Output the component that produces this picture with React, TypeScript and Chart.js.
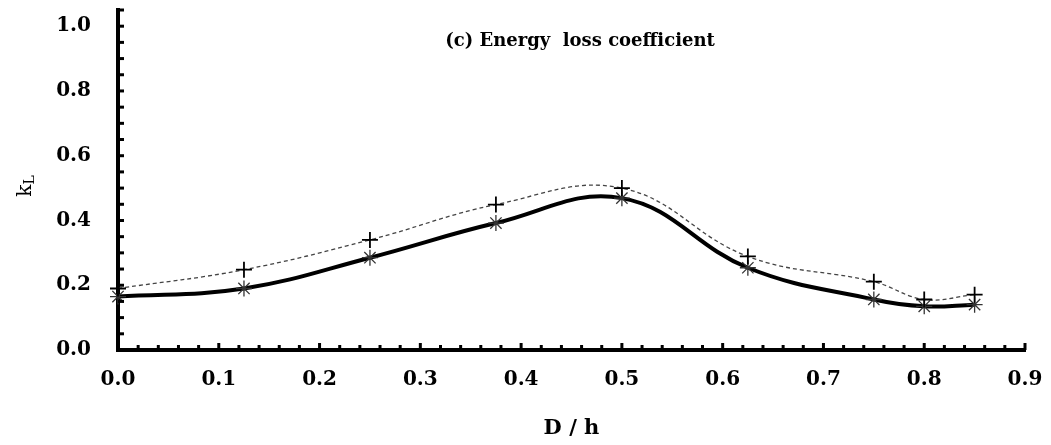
import React, { useEffect, useRef } from "react";
import { Chart, registerables } from "chart.js";

Chart.register(...registerables);

const xValues = [0, 0.125, 0.25, 0.375, 0.5, 0.625, 0.75, 0.8, 0.85];
const kLSolid = [0.165, 0.19, 0.285, 0.392, 0.469, 0.254, 0.156, 0.135, 0.14];
const kLDashed = [0.19, 0.248, 0.34, 0.449, 0.5, 0.289, 0.211, 0.156, 0.171];
const titleText = "(c) Energy  loss coefficient";
const xAxisTitle = "D / h";
const yAxisMain = "k";
const yAxisSub = "L";

const FONT = "'DejaVu Serif', 'Liberation Serif', serif";

const isMultiple = (v: number, step: number) =>
  Math.abs(v / step - Math.round(v / step)) < 1e-6;

const decorPlugin = {
  id: "decor",
  afterDraw(chart: any) {
    const { ctx, chartArea, scales } = chart;
    const xs = scales.x;
    const ys = scales.y;
    ctx.save();
    ctx.strokeStyle = "#000";
    ctx.lineWidth = 3;
    xs.ticks.forEach((t: any) => {
      const px = xs.getPixelForValue(t.value);
      const len = isMultiple(t.value, 0.1) ? 7 : 5;
      ctx.beginPath();
      ctx.moveTo(px, chartArea.bottom);
      ctx.lineTo(px, chartArea.bottom - len);
      ctx.stroke();
    });
    ys.ticks.forEach((t: any) => {
      const py = ys.getPixelForValue(t.value);
      ctx.beginPath();
      ctx.moveTo(chartArea.left, py);
      ctx.lineTo(chartArea.left + 6, py);
      ctx.stroke();
    });
    ctx.fillStyle = "#000";
    ctx.font = `bold 18px ${FONT}`;
    ctx.textAlign = "center";
    ctx.textBaseline = "middle";
    ctx.fillText(titleText, 580, 41);
    ctx.translate(24, 186);
    ctx.rotate(-Math.PI / 2);
    ctx.textAlign = "left";
    ctx.textBaseline = "alphabetic";
    ctx.font = `20px ${FONT}`;
    const kw = ctx.measureText(yAxisMain).width;
    ctx.font = `14px ${FONT}`;
    const lw = ctx.measureText(yAxisSub).width;
    const startX = -(kw + lw) / 2;
    ctx.font = `20px ${FONT}`;
    ctx.fillText(yAxisMain, startX, 7);
    ctx.font = `14px ${FONT}`;
    ctx.fillText(yAxisSub, startX + kw, 10);
    ctx.restore();
  },
};

export default function App() {
  const ref = useRef<HTMLCanvasElement>(null);
  useEffect(() => {
    if (!ref.current) return;
    const chart = new Chart(ref.current, {
      type: "line",
      data: {
        datasets: [
          {
            data: xValues.map((x, i) => ({ x, y: kLDashed[i] })),
            borderColor: "#444",
            borderWidth: 1.3,
            borderDash: [4, 3],
            tension: 0.4,
            pointStyle: "cross",
            pointRadius: 8,
            pointBorderColor: "#000",
            pointBorderWidth: 1.8,
            pointBackgroundColor: "rgba(0,0,0,0)",
            clip: false as any,
          },
          {
            data: xValues.map((x, i) => ({ x, y: kLSolid[i] })),
            borderColor: "#000",
            borderWidth: 4,
            tension: 0.4,
            pointStyle: "star",
            pointRadius: 8,
            pointBorderColor: "#333",
            pointBorderWidth: 1.3,
            pointBackgroundColor: "rgba(0,0,0,0)",
            clip: false as any,
          },
        ],
      },
      options: {
        animation: false,
        responsive: true,
        maintainAspectRatio: false,
        layout: { padding: { left: 0, right: 26, top: 10, bottom: 0 } },
        plugins: {
          legend: { display: false },
          tooltip: { enabled: false },
        },
        scales: {
          x: {
            type: "linear",
            min: 0,
            max: 0.9,
            afterFit: (s: any) => {
              s.height = 95;
              s.paddingLeft = 0;
              s.paddingRight = 0;
            },
            ticks: {
              stepSize: 0.02,
              autoSkip: false,
              maxRotation: 0,
              padding: 18,
              color: "#000",
              font: { family: FONT, size: 20, weight: "bold" },
              callback: (v: any) => (isMultiple(Number(v), 0.1) ? Number(v).toFixed(1) : ""),
            },
            grid: { display: false, drawTicks: false },
            border: { display: true, color: "#000", width: 4 },
            title: {
              display: true,
              text: xAxisTitle,
              color: "#000",
              font: { family: FONT, size: 21, weight: "bold" },
              padding: { top: 0, bottom: 4 },
            },
          },
          y: {
            type: "linear",
            min: 0,
            max: 1.05,
            afterFit: (s: any) => {
              s.width = 118;
              s.paddingTop = 0;
              s.paddingBottom = 0;
            },
            ticks: {
              stepSize: 0.05,
              autoSkip: false,
              padding: 27,
              color: "#000",
              font: { family: FONT, size: 20, weight: "bold" },
              callback: (v: any) => (isMultiple(Number(v), 0.2) ? Number(v).toFixed(1) : ""),
            },
            grid: { display: false, drawTicks: false },
            border: { display: true, color: "#000", width: 4 },
          },
        },
      },
      plugins: [decorPlugin],
    });
    return () => chart.destroy();
  }, []);
  return (
    <div
      style={{
        position: "fixed",
        left: 0,
        top: 0,
        width: 1051,
        height: 445,
        background: "#fff",
      }}
    >
      <canvas ref={ref} />
    </div>
  );
}
